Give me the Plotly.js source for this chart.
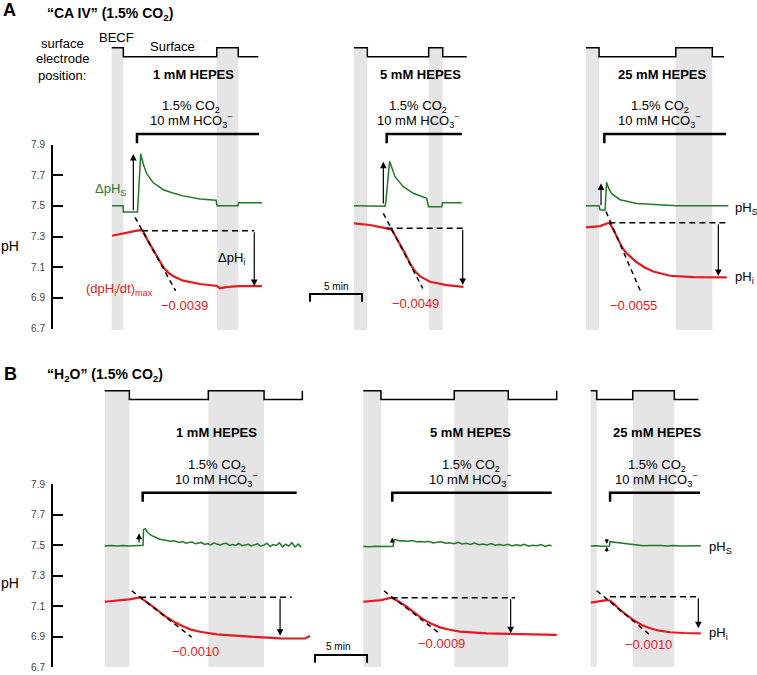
<!DOCTYPE html>
<html><head><meta charset="utf-8">
<script src="https://cdn.plot.ly/plotly-3.0.1.min.js"></script>
<style>html,body{margin:0;padding:0;background:#fff}#chart{width:757px;height:675px}</style>
</head><body><div id="chart"></div>
<script>
// ================= DATA =================
// time in minutes from the start of each recording, pH in pH units
const hepesConc = [1, 5, 25];
const slopeLabelsA = ['\u22120.0039', '\u22120.0049', '\u22120.0055'];
const slopeLabelsB = ['\u22120.0010', '\u22120.0009', '\u22120.0010'];
const pHTicks = [6.7, 6.9, 7.1, 7.3, 7.5, 7.7, 7.9];
const scaleBarMin = 5;

// electrode position: 1 = BECF, 0 = Surface (switch times, state after switch)
const A1_posT = [0, 1.12, 10.10, 12.17, 14.10]; const A1_pos = [1, 0, 1, 0, 0];
const A2_posT = [0, 1.28, 7.18, 8.53, 10.84];  const A2_pos = [1, 0, 1, 0, 0];
const A3_posT = [0, 1.25, 8.63, 12.14, 13.27]; const A3_pos = [1, 0, 1, 0, 0];
const B1_posT = [0, 2.37, 9.96, 15.32, 19.00]; const B1_pos = [1, 0, 1, 0, 1];
const B2_posT = [0, 1.70, 8.75, 13.94, 18.60]; const B2_pos = [1, 0, 1, 0, 1];
const B3_posT = [0, 0.58, 4.04, 8.04, 10.35];  const B3_pos = [1, 0, 1, 0, 0];

// CO2/HCO3- application [on, end of bar]
const A1_co2 = [2.43, 14.16]; const A2_co2 = [3.14, 10.36]; const A3_co2 = [1.76, 13.46];
const B1_co2 = [3.65, 18.46]; const B2_co2 = [2.79, 18.12]; const B3_co2 = [1.86, 10.51];

// surface pH (pHS) [t, pH]
const A1_pHs = [[0.03,7.50],[1.09,7.50],[1.13,7.46],[2.48,7.46],[2.79,7.84],[3.05,7.77],[3.37,7.71],[4.00,7.65],[4.96,7.605],[5.80,7.585],[6.86,7.565],[8.49,7.545],[10.03,7.537],[10.13,7.50],[12.14,7.50],[12.19,7.52],[14.45,7.52]];
const A2_pHs = [[0,7.50],[2.98,7.497],[3.05,7.52],[3.42,7.79],[3.94,7.69],[4.74,7.625],[5.70,7.582],[6.99,7.549],[7.16,7.494],[8.43,7.494],[8.51,7.52],[10.36,7.52]];
const A3_pHs = [[0,7.50],[1.25,7.50],[1.35,7.473],[1.83,7.473],[1.97,7.653],[2.2,7.61],[2.47,7.578],[3.27,7.54],[4.88,7.516],[8.72,7.50],[13.68,7.50]];
const B1_pHs = [[0,7.494],[0.6,7.497],[1.2,7.493],[1.8,7.496],[2.4,7.494],[3.0,7.497],[3.4,7.495],[3.68,7.498],[3.73,7.600],[3.88,7.607],[4.1,7.585],[4.4,7.566],[4.67,7.557],[5.0,7.545],[5.3,7.538],[5.6,7.534],[5.96,7.530],[6.3,7.524],[6.6,7.527],[6.9,7.521],[7.2,7.517],[7.5,7.523],[7.8,7.512],[8.1,7.516],[8.4,7.520],[8.7,7.508],[9.0,7.511],[9.3,7.517],[9.6,7.504],[9.9,7.509],[10.2,7.501],[10.5,7.514],[10.8,7.506],[11.1,7.500],[11.4,7.508],[11.7,7.511],[12.0,7.497],[12.3,7.503],[12.6,7.499],[12.9,7.510],[13.2,7.496],[13.5,7.502],[13.8,7.505],[14.1,7.494],[14.4,7.500],[14.7,7.508],[15.0,7.492],[15.3,7.499],[15.6,7.512],[15.9,7.490],[16.2,7.503],[16.5,7.497],[16.8,7.514],[17.1,7.488],[17.4,7.505],[17.7,7.493],[18.0,7.515],[18.3,7.487],[18.6,7.506],[18.88,7.486]];
const B2_pHs = [[0,7.490],[0.6,7.488],[1.2,7.491],[1.8,7.489],[2.4,7.490],[2.86,7.492],[2.98,7.537],[3.2,7.533],[3.5,7.526],[3.9,7.528],[4.3,7.524],[4.7,7.529],[5.1,7.521],[5.5,7.523],[5.9,7.519],[6.3,7.525],[6.7,7.514],[7.1,7.518],[7.5,7.521],[7.9,7.512],[8.3,7.515],[8.7,7.509],[9.1,7.517],[9.5,7.507],[9.9,7.511],[10.3,7.504],[10.7,7.513],[11.1,7.502],[11.5,7.506],[11.9,7.500],[12.3,7.509],[12.7,7.498],[13.1,7.503],[13.5,7.497],[13.9,7.505],[14.3,7.494],[14.7,7.501],[15.1,7.496],[15.5,7.504],[15.9,7.492],[16.3,7.499],[16.7,7.495],[17.1,7.503],[17.5,7.490],[17.9,7.499],[18.12,7.494]];
const B3_pHs = [[0,7.493],[0.5,7.495],[1.0,7.492],[1.5,7.494],[1.80,7.493],[1.86,7.522],[2.3,7.518],[2.8,7.512],[3.46,7.507],[4.0,7.502],[4.5,7.499],[5.06,7.495],[5.6,7.497],[6.2,7.494],[6.8,7.496],[7.4,7.494],[8.0,7.496],[8.6,7.493],[9.2,7.495],[9.8,7.494],[10.58,7.495]];

// intracellular pH (pHi) [t, pH]
const A1_pHi = [[0.03,7.305],[1.09,7.321],[2.43,7.338],[2.91,7.342],[3.04,7.33],[3.5,7.27],[4.0,7.21],[4.5,7.15],[4.96,7.10],[5.5,7.06],[6.09,7.035],[6.86,7.012],[8.49,6.99],[10.13,6.977],[10.41,6.962],[10.99,6.970],[12.14,6.977],[14.45,6.977]];
const A2_pHi = [[0,7.386],[1.54,7.375],[3.14,7.353],[3.65,7.342],[4.0,7.30],[4.42,7.252],[4.9,7.19],[5.38,7.125],[5.85,7.075],[6.35,7.040],[7.31,7.005],[8.91,6.983],[10.51,6.972]];
const A3_pHi = [[0,7.360],[1.35,7.368],[2.0,7.385],[2.24,7.39],[2.5,7.36],[2.75,7.327],[2.95,7.299],[3.2,7.262],[3.5,7.225],[3.91,7.19],[4.4,7.158],[4.88,7.132],[5.6,7.10],[6.47,7.072],[8.08,7.044],[10.32,7.035],[13.53,7.034]];
const B1_pHi = [[0,7.128],[2.34,7.144],[3.39,7.157],[4.0,7.13],[4.67,7.095],[5.3,7.06],[5.96,7.026],[6.7,6.995],[7.56,6.965],[8.3,6.945],[9.16,6.931],[10.77,6.914],[12.4,6.905],[13.97,6.899],[16.86,6.888],[18.78,6.884],[19.26,6.887],[19.74,6.903]];
const B2_pHi = [[0,7.128],[1.70,7.139],[2.73,7.154],[3.4,7.13],[4.17,7.095],[5.0,7.05],[5.77,7.012],[6.5,6.985],[7.38,6.960],[8.3,6.944],[9.30,6.932],[11.87,6.921],[14.75,6.916],[18.60,6.910]];
const B3_pHi = [[0,7.122],[1.0,7.13],[1.54,7.139],[1.86,7.135],[2.3,7.11],[2.82,7.074],[3.4,7.043],[4.10,7.008],[4.9,6.975],[5.70,6.954],[6.6,6.938],[7.63,6.928],[9.0,6.923],[10.58,6.921]];

// tangent at max dpHi/dt: [t, pH] end points
const A1_tan = [[2.24,7.425],[6.15,6.945]];
const A2_tan = [[2.82,7.451],[6.61,6.962]];
const A3_tan = [[1.92,7.462],[5.26,6.940]];
const B1_tan = [[2.60,7.200],[8.37,6.895]];
const B2_tan = [[1.99,7.200],[7.31,6.921]];
const B3_tan = [[0.58,7.200],[5.70,6.910]];

// dashed pHi reference level: [t start, t end, pH]
const A1_ref = [2.91, 13.71, 7.338];
const A2_ref = [3.14, 10.45, 7.353];
const A3_ref = [2.24, 13.59, 7.390];
const B1_ref = [3.39, 17.98, 7.157];
const B2_ref = [2.73, 14.59, 7.154];
const B3_ref = [1.86, 10.35, 7.161];

// delta pHi arrows: [t, from pH, to pH]
const A1_dpHi = [13.71, 7.338, 6.977];
const A2_dpHi = [10.45, 7.353, 6.983];
const A3_dpHi = [12.72, 7.390, 7.042];
const B1_dpHi = [16.86, 7.157, 6.905];
const B2_dpHi = [14.17, 7.154, 6.921];
const B3_dpHi = [10.35, 7.161, 6.954];

// delta pHS arrows: [t, from pH, to pH]
const A1_dpHs = [2.08, 7.462, 7.838];
const A2_dpHs = [2.82, 7.505, 7.788];
const A3_dpHs = [1.44, 7.494, 7.647];
const B1_dpHs = [3.30, 7.507, 7.577];
const B2_dpHs = [2.79, 7.507, 7.548];
const B3_dpHs = [[1.54, 7.548, 7.508], [1.54, 7.446, 7.489]];

// ================= LAYOUT / POSITIONS =================
const W = 757, H = 675, PXMIN = 10.4;          // pixels per minute
const FONT = 'Liberation Sans, Arial, Helvetica, sans-serif';
const GREEN = '#23792a', RED = '#e8191e', BAND = '#e5e5e5';
const origin = {A1: 10.74, A2: 34.04, A3: 56.35, B1: 10.07, B2: 34.93, B3: 56.80};
const pyA = {bandTop: 47.7, bandBot: 330, brTop: 134, brBot: 143.3, sbTop: 294, sbBot: 301.7, sbX: 29.81};
const pyB = {bandTop: 390.7, bandBot: 667, brTop: 492.7, brBot: 501.7, sbTop: 655, sbBot: 662.7, sbX: 30.29};
const py = v => 1 - v / H;

const exps = [
  {id:'A1', p:'A', pos:[A1_posT,A1_pos], co2:A1_co2, s:A1_pHs, i:A1_pHi, tan:A1_tan, ref:A1_ref, di:A1_dpHi, ds:[A1_dpHs], as:1.1},
  {id:'A2', p:'A', pos:[A2_posT,A2_pos], co2:A2_co2, s:A2_pHs, i:A2_pHi, tan:A2_tan, ref:A2_ref, di:A2_dpHi, ds:[A2_dpHs], as:1.1},
  {id:'A3', p:'A', pos:[A3_posT,A3_pos], co2:A3_co2, s:A3_pHs, i:A3_pHi, tan:A3_tan, ref:A3_ref, di:A3_dpHi, ds:[A3_dpHs], as:1.1},
  {id:'B1', p:'B', pos:[B1_posT,B1_pos], co2:B1_co2, s:B1_pHs, i:B1_pHi, tan:B1_tan, ref:B1_ref, di:B1_dpHi, ds:[B1_dpHs], as:1.0},
  {id:'B2', p:'B', pos:[B2_posT,B2_pos], co2:B2_co2, s:B2_pHs, i:B2_pHi, tan:B2_tan, ref:B2_ref, di:B2_dpHi, ds:[B2_dpHs], as:0.8},
  {id:'B3', p:'B', pos:[B3_posT,B3_pos], co2:B3_co2, s:B3_pHs, i:B3_pHi, tan:B3_tan, ref:B3_ref, di:B3_dpHi, ds:B3_dpHs, as:0.7}
];

const traces = [], shapes = [], annotations = [];
const arrow = (x, y0, y1, yref, sz) => ({x:x, y:y1, ax:x, ay:y0, xref:'x', yref:yref, axref:'x', ayref:yref,
  showarrow:true, arrowhead:2, arrowsize:sz, arrowwidth:1.2, arrowcolor:'#000', text:'', standoff:0, startstandoff:0});

exps.forEach(e => {
  const o = origin[e.id];
  const yr = e.p === 'A' ? 'y' : 'y2';
  const ys = e.p === 'A' ? 'y3' : 'y4';
  const g = e.p === 'A' ? pyA : pyB;
  // electrode position trace
  traces.push({x: e.pos[0].map(t => o + t), y: e.pos[1], yaxis: ys, mode:'lines',
    line:{color:'#000', width:1.5, shape:'hv'}, hoverinfo:'skip'});
  // BECF bands
  for (let k = 0; k < e.pos[0].length - 1; k++) {
    if (e.pos[1][k] === 1) shapes.push({type:'rect', xref:'x', yref:'paper', layer:'below',
      x0: o + e.pos[0][k], x1: o + e.pos[0][k+1], y0: py(g.bandBot), y1: py(g.bandTop),
      fillcolor: BAND, line:{width:0}});
  }
  // CO2 bar
  const c0 = o + e.co2[0], c1 = o + e.co2[1];
  shapes.push({type:'path', xref:'x', yref:'paper',
    path:`M ${c0},${py(g.brBot)} L ${c0},${py(g.brTop)} L ${c1},${py(g.brTop)}`,
    line:{color:'#000', width:2.5}});
  // pHS, pHi
  traces.push({x: e.s.map(p => o + p[0]), y: e.s.map(p => p[1]), yaxis: yr, mode:'lines',
    line:{color:GREEN, width:1.5}, hoverinfo:'skip'});
  traces.push({x: e.i.map(p => o + p[0]), y: e.i.map(p => p[1]), yaxis: yr, mode:'lines',
    line:{color:RED, width:2.2}, hoverinfo:'skip'});
  // tangent & reference
  traces.push({x: e.tan.map(p => o + p[0]), y: e.tan.map(p => p[1]), yaxis: yr, mode:'lines',
    line:{color:'#000', width:1.5, dash:'5px,4px'}, hoverinfo:'skip'});
  traces.push({x: [o + e.ref[0], o + e.ref[1]], y: [e.ref[2], e.ref[2]], yaxis: yr, mode:'lines',
    line:{color:'#000', width:1.5, dash:'6px,4px'}, hoverinfo:'skip'});
  // arrows
  annotations.push(arrow(o + e.di[0], e.di[1], e.di[2], yr, 1.1));
  e.ds.forEach(d => annotations.push(arrow(o + d[0], d[1], d[2], yr, e.as)));
});

// scale bars
[pyA, pyB].forEach(g => {
  shapes.push({type:'path', xref:'x', yref:'paper',
    path:`M ${g.sbX},${py(g.sbBot)} L ${g.sbX},${py(g.sbTop)} L ${g.sbX + scaleBarMin},${py(g.sbTop)} L ${g.sbX + scaleBarMin},${py(g.sbBot)}`,
    line:{color:'#000', width:2}});
});

// text
const txt = (s, x, y, o) => {
  o = o || {};
  annotations.push({text:s, x:x / W, y:py(y), xref:'paper', yref:'paper', showarrow:false,
    xanchor:o.xa || 'center', yanchor:'middle',
    font:{family:FONT, size:o.size || 13, color:o.color || '#000'}});
};
txt('<b>A</b>', 9, 10, {size:18});
txt('<b>\u201cCA IV\u201d (1.5% CO<sub>2</sub>)</b>', 45, 14, {size:14, xa:'left'});
txt('<b>B</b>', 10, 373.5, {size:18});
txt('<b>\u201cH<sub>2</sub>O\u201d (1.5% CO<sub>2</sub>)</b>', 45, 375, {size:14, xa:'left'});
txt('surface', 62, 43); txt('electrode', 62, 59); txt('position:', 62, 75);
txt('BECF', 116, 38); txt('Surface', 172.7, 46.7);
txt('pH', 9.5, 246, {size:14}); txt('pH', 9.5, 583, {size:14});

const hepesXA = [193.3, 420, 661.7], hepesXB = [216.7, 470.7, 656.7];
hepesConc.forEach((c, k) => {
  txt(`<b>${c} mM HEPES</b>`, hepesXA[k], 74.5);
  txt(`<b>${c} mM HEPES</b>`, hepesXB[k], 433);
  txt('1.5% CO<sub>2</sub>', hepesXA[k] - 2, 106);
  txt('10 mM HCO<sub>3</sub><sup>\u2212</sup>', hepesXA[k] - 2, 121);
  txt('1.5% CO<sub>2</sub>', hepesXB[k], 465);
  txt('10 mM HCO<sub>3</sub><sup>\u2212</sup>', hepesXB[k], 480);
});
const slopeA = [[184.5,305],[415,304],[633.3,305]], slopeB = [[195,651.7],[441.7,643.3],[648.3,644]];
slopeLabelsA.forEach((s, k) => txt(s, slopeA[k][0], slopeA[k][1], {color:RED}));
slopeLabelsB.forEach((s, k) => txt(s, slopeB[k][0], slopeB[k][1], {color:RED}));

txt('\u0394pH<sub>S</sub>', 128, 190, {color:GREEN, xa:'right'});
txt('(dpH<sub>i</sub>/dt)<sub>max</sub>', 119, 289, {color:RED});
txt('\u0394pH<sub>i</sub>', 231, 258);
txt('5 min', 336, 286, {size:10}); txt('5 min', 338.3, 646.7, {size:10});
txt('pH<sub>S</sub>', 733, 208, {xa:'left'}); txt('pH<sub>i</sub>', 733, 277, {xa:'left'});
txt('pH<sub>S</sub>', 706.7, 547, {xa:'left'}); txt('pH<sub>i</sub>', 706.7, 633, {xa:'left'});

const pHaxis = (top, bot) => ({domain:[py(bot), py(top)], range:[6.7, 7.9], anchor:'free', position:52 / W,
  showline:true, linecolor:'#000', linewidth:2, ticks:'inside', ticklen:10, tickwidth:2, tickcolor:'#000',
  tickvals:pHTicks, ticktext:pHTicks.map(v => v.toFixed(1)), tickfont:{family:FONT, size:10, color:'#444'},
  ticklabelstandoff:4, showgrid:false, zeroline:false, fixedrange:true});

const layout = {
  width:W, height:H, margin:{l:0, r:0, t:0, b:0}, paper_bgcolor:'#fff', plot_bgcolor:'rgba(0,0,0,0)',
  showlegend:false, font:{family:FONT},
  xaxis:{domain:[0,1], range:[0, W / PXMIN], visible:false, fixedrange:true},
  yaxis: pHaxis(144.5, 328.5),
  yaxis2: pHaxis(484, 667),
  yaxis3:{domain:[py(70), py(30)], range:[(56.7-70)/9, (56.7-30)/9], visible:false, fixedrange:true},
  yaxis4:{domain:[py(415), py(375)], range:[(399.5-415)/8.8, (399.5-375)/8.8], visible:false, fixedrange:true},
  shapes:shapes, annotations:annotations
};

Plotly.newPlot('chart', traces, layout, {staticPlot:true, displayModeBar:false});
</script></body></html>
